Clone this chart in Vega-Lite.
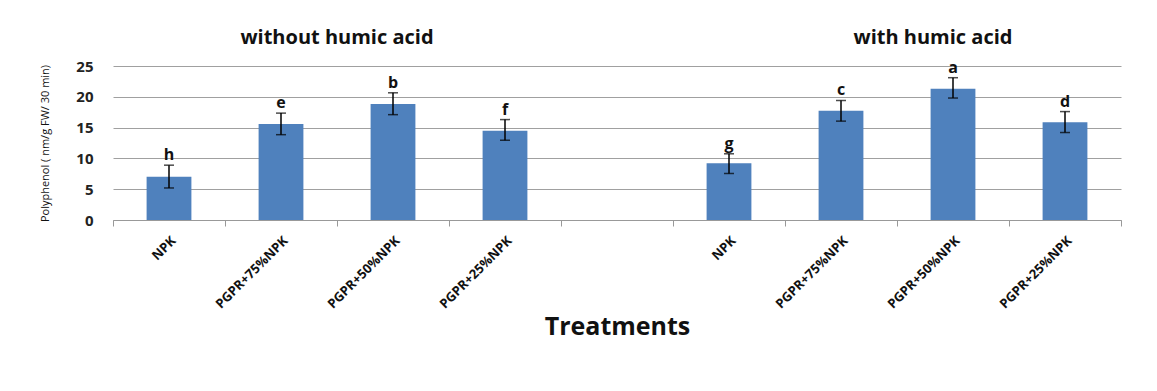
{
  "$schema": "https://vega.github.io/schema/vega-lite/v6.json",
  "width": 1008,
  "height": 154,
  "padding": {"left": 39, "top": 28, "right": 5, "bottom": 5},
  "background": "white",
  "config": {"view": {"stroke": null}, "font": "Open Sans"},
  "data": {"values": [
      {"k": "NPK", "v": 7.03, "lo": 5.2, "hi": 8.9, "sig": "h"},
      {"k": "PGPR+75%NPK", "v": 15.6, "lo": 13.85, "hi": 17.35, "sig": "e"},
      {"k": "PGPR+50%NPK", "v": 18.85, "lo": 17.1, "hi": 20.65, "sig": "b"},
      {"k": "PGPR+25%NPK", "v": 14.5, "lo": 12.95, "hi": 16.3, "sig": "f"},
      {"k": "NPK ", "v": 9.2, "lo": 7.55, "hi": 10.75, "sig": "g"},
      {"k": "PGPR+75%NPK ", "v": 17.75, "lo": 16.05, "hi": 19.4, "sig": "c"},
      {"k": "PGPR+50%NPK ", "v": 21.3, "lo": 19.8, "hi": 23.1, "sig": "a"},
      {"k": "PGPR+25%NPK ", "v": 15.85, "lo": 14.2, "hi": 17.6, "sig": "d"}
  ]},
  "encoding": {
    "x": {
      "field": "k", "type": "nominal", "sort": null,
      "scale": {
        "domain": ["NPK", "PGPR+75%NPK", "PGPR+50%NPK", "PGPR+25%NPK", " ", "NPK ", "PGPR+75%NPK ", "PGPR+50%NPK ", "PGPR+25%NPK "],
        "paddingInner": 0, "paddingOuter": 0
      },
      "axis": {
        "title": "Treatments",
        "titleFontSize": 25, "titleColor": "#111",
        "labelAngle": -45,
        "labelFontSize": 13, "labelFontWeight": "bold", "labelColor": "#111",
        "labelPadding": 8,
        "tickBand": "extent", "tickSize": 6, "tickColor": "#999", "domainColor": "#999"
      }
    }
  },
  "layer": [
    {
      "mark": {"type": "bar", "color": "#4F81BD", "width": {"band": 0.4}},
      "encoding": {
        "y": {
          "field": "v", "type": "quantitative",
          "scale": {"domain": [0, 25], "nice": false},
          "axis": {
            "tickCount": 5,
            "title": "Polyphenol ( nm/g FW/ 30 min)",
            "titleFontSize": 11, "titleFontWeight": "normal", "titleColor": "#111", "titlePadding": 25,
            "labelFontSize": 15, "labelFontWeight": "bold", "labelColor": "#222",
            "labelPadding": 20, "ticks": false, "domain": false,
            "gridColor": "#a0a0a0"
          }
        }
      }
    },
    {
      "mark": {"type": "rule", "color": "black", "strokeWidth": 1.5},
      "encoding": {
        "y": {"field": "lo", "type": "quantitative"},
        "y2": {"field": "hi"}
      }
    },
    {
      "mark": {"type": "tick", "color": "black", "thickness": 1.5, "size": 10},
      "encoding": {
        "y": {"field": "lo", "type": "quantitative"}
      }
    },
    {
      "mark": {"type": "tick", "color": "black", "thickness": 1.5, "size": 10},
      "encoding": {
        "y": {"field": "hi", "type": "quantitative"}
      }
    },
    {
      "mark": {"type": "text", "baseline": "bottom", "dy": -2, "fontSize": 16, "fontWeight": "bold", "color": "#111"},
      "encoding": {
        "y": {"field": "hi", "type": "quantitative"},
        "text": {"field": "sig"}
      }
    },
    {
      "data": {"values": [{"k": "PGPR+50%NPK", "t": "without humic acid", "yy": 29.5}]},
      "mark": {"type": "text", "baseline": "middle", "align": "center", "dx": -56, "fontSize": 20, "fontWeight": "bold", "color": "#111"},
      "encoding": {
        "y": {"field": "yy", "type": "quantitative"},
        "text": {"field": "t"}
      }
    },
    {
      "data": {"values": [{"k": "PGPR+50%NPK ", "t": "with humic acid", "yy": 29.5}]},
      "mark": {"type": "text", "baseline": "middle", "align": "center", "dx": -20, "fontSize": 20, "fontWeight": "bold", "color": "#111"},
      "encoding": {
        "y": {"field": "yy", "type": "quantitative"},
        "text": {"field": "t"}
      }
    }
  ]
}
